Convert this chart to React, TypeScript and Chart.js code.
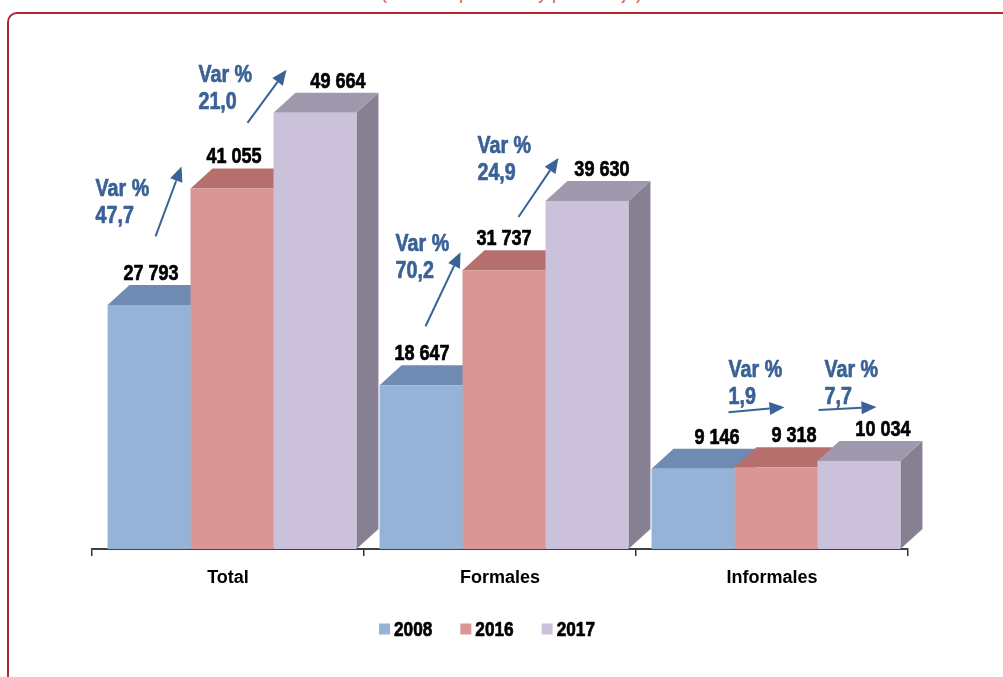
import React, { useEffect, useRef } from 'react';
import { Chart, registerables } from 'chart.js';

Chart.register(...registerables);

// ---------- data ----------
const categories = ['Total', 'Formales', 'Informales'];
const seriesLabels = ['2008', '2016', '2017'];
const values2008 = [27793, 18647, 9146];
const values2016 = [41055, 31737, 9318];
const values2017 = [49664, 39630, 10034];
// Var %: [2008->2016, 2016->2017] per category
const varTotal = ['47,7', '21,0'];
const varFormales = ['70,2', '24,9'];
const varInformales = ['1,9', '7,7'];
const subtitle = '(Miles de personas y porcentaje)';

// ---------- styles ----------
const FONT = "'Liberation Sans', Arial, sans-serif";
const CONDENSE = 0.82;
const FRONT = ['#95B3D7', '#D99694', '#CCC1DA'];
const TOP = ['#6F8BB4', '#B5706E', '#A098AC'];
const SIDE = ['#6A84AA', '#A96664', '#868092'];
const DX = 22;
const DY = 20;
const SHIFT_X = 4;
const VAR_COLOR = '#3A6296';
// label x shifts (px) per series / category
const LABEL_SHIFT = [
  [2, 1, 24],
  [2, 0, 18],
  [23, 15, 24],
];
// annotation layout relative to the target bar's front-top-left corner
// [tailX, tailY, headX, headY, textX, textBaseline]
const ANNOT_LAYOUT = [
  [
    [-35, 48, -9, -22, -95, 8],
    [-26, 10, 13, -43, -75, -31],
  ],
  [
    [-37, 56, -2, -18, -67, -19],
    [-27, 16, 13, -43, -68, -48],
  ],
  [
    [-6, -55, 50, -60, -6, -90],
    [1, -51, 59, -54, 7, -84],
  ],
];
const LEGEND_CENTER_X = 487;
const LEGEND_Y = 629;

const fmt = (v: number) => String(Math.round(v)).replace(/\B(?=(\d{3})+(?!\d))/g, ' ');

function condensedText(ctx: CanvasRenderingContext2D, text: string, x: number, y: number, align: 'left' | 'center') {
  ctx.save();
  ctx.translate(x, y);
  ctx.scale(CONDENSE, 1);
  ctx.textAlign = align;
  ctx.fillText(text, 0, 0);
  ctx.strokeStyle = ctx.fillStyle as string;
  ctx.lineWidth = 0.7;
  ctx.lineJoin = 'round';
  ctx.strokeText(text, 0, 0);
  ctx.restore();
}

function condensedWidth(ctx: CanvasRenderingContext2D, text: string) {
  return ctx.measureText(text).width * CONDENSE;
}

const depthPlugin = {
  id: 'depth3d',
  beforeDatasetsDraw(chart: any) {
    const ctx = chart.ctx;
    ctx.save();
    ctx.translate(SHIFT_X, 0);
    chart.data.datasets.forEach((_ds: any, di: number) => {
      const meta = chart.getDatasetMeta(di);
      meta.data.forEach((bar: any) => {
        const { x, y, base, width } = bar.getProps(['x', 'y', 'base', 'width'], true);
        const x0 = x - width / 2;
        const x1 = x + width / 2;
        ctx.fillStyle = SIDE[di];
        ctx.beginPath();
        ctx.moveTo(x1, y);
        ctx.lineTo(x1 + DX, y - DY);
        ctx.lineTo(x1 + DX, base - DY);
        ctx.lineTo(x1, base);
        ctx.closePath();
        ctx.fill();
        ctx.fillStyle = TOP[di];
        ctx.beginPath();
        ctx.moveTo(x0, y);
        ctx.lineTo(x0 + DX, y - DY);
        ctx.lineTo(x1 + DX, y - DY);
        ctx.lineTo(x1, y);
        ctx.closePath();
        ctx.fill();
      });
    });
  },
  afterDatasetsDraw(chart: any) {
    const ctx = chart.ctx;
    // value labels
    ctx.font = `bold 22px ${FONT}`;
    ctx.fillStyle = '#000';
    ctx.textBaseline = 'alphabetic';
    chart.data.datasets.forEach((ds: any, di: number) => {
      const meta = chart.getDatasetMeta(di);
      meta.data.forEach((bar: any, i: number) => {
        const { x, y } = bar.getProps(['x', 'y'], true);
        condensedText(ctx, fmt(ds.data[i]), x + LABEL_SHIFT[di][i], y - DY - 5, 'center');
      });
    });
    // Var % annotations
    const vars = [varTotal, varFormales, varInformales];
    ctx.font = `bold 24px ${FONT}`;
    vars.forEach((arr, ci) => {
      arr.forEach((txt, s) => {
        const bar: any = chart.getDatasetMeta(s + 1).data[ci];
        const { x, y, width } = bar.getProps(['x', 'y', 'width'], true);
        const ox = x - width / 2;
        const oy = y;
        const [tx, ty, hx, hy, lx, ly] = ANNOT_LAYOUT[ci][s];
        ctx.fillStyle = VAR_COLOR;
        condensedText(ctx, 'Var %', ox + lx, oy + ly, 'left');
        condensedText(ctx, txt, ox + lx, oy + ly + 27, 'left');
        // arrow
        const ax = ox + tx, ay = oy + ty, bx = ox + hx, by = oy + hy;
        const ang = Math.atan2(by - ay, bx - ax);
        const L = 15, W = 6.5;
        const bxl = bx - L * Math.cos(ang);
        const byl = by - L * Math.sin(ang);
        ctx.strokeStyle = VAR_COLOR;
        ctx.lineWidth = 2;
        ctx.beginPath();
        ctx.moveTo(ax, ay);
        ctx.lineTo(bxl, byl);
        ctx.stroke();
        ctx.beginPath();
        ctx.moveTo(bx, by);
        ctx.lineTo(bxl + W * Math.sin(ang), byl - W * Math.cos(ang));
        ctx.lineTo(bxl - W * Math.sin(ang), byl + W * Math.cos(ang));
        ctx.closePath();
        ctx.fill();
      });
    });
    ctx.restore();
  },
  afterDraw(chart: any) {
    // legend
    const ctx = chart.ctx;
    ctx.save();
    ctx.font = `bold 21px ${FONT}`;
    ctx.textBaseline = 'middle';
    const box = 11, gapText = 4, gapItem = 28;
    const items = chart.data.datasets.map((d: any) => ({
      label: d.label,
      color: d.backgroundColor,
      w: box + gapText + condensedWidth(ctx, d.label),
    }));
    const total = items.reduce((a: number, it: any) => a + it.w, 0) + gapItem * (items.length - 1);
    let x = LEGEND_CENTER_X - total / 2;
    items.forEach((it: any) => {
      ctx.fillStyle = it.color;
      ctx.fillRect(x, LEGEND_Y - box / 2, box, box);
      ctx.fillStyle = '#000';
      condensedText(ctx, it.label, x + box + gapText, LEGEND_Y + 1, 'left');
      x += it.w + gapItem;
    });
    ctx.restore();
  },
};

export default function App() {
  const ref = useRef<HTMLCanvasElement>(null);
  useEffect(() => {
    if (!ref.current) return;
    const chart = new Chart(ref.current, {
      type: 'bar',
      data: {
        labels: categories,
        datasets: [
          { label: seriesLabels[0], data: values2008, backgroundColor: FRONT[0] },
          { label: seriesLabels[1], data: values2016, backgroundColor: FRONT[1] },
          { label: seriesLabels[2], data: values2017, backgroundColor: FRONT[2] },
        ],
      },
      options: {
        responsive: false,
        animation: false,
        devicePixelRatio: 1,
        layout: { padding: { left: 92, right: 95, top: 66, bottom: 88 } },
        datasets: { bar: { categoryPercentage: 0.915, barPercentage: 1, borderWidth: 0 } },
        plugins: { legend: { display: false }, tooltip: { enabled: false }, title: { display: false } },
        scales: {
          x: {
            offset: true,
            grid: {
              display: true,
              offset: true,
              drawOnChartArea: false,
              drawTicks: true,
              tickLength: 7,
              color: '#333',
              lineWidth: 1.5,
            },
            border: { display: true, color: '#404040', width: 2 },
            ticks: { color: '#000', font: { family: FONT, size: 18, weight: 'bold' }, padding: 11 },
            afterFit: (scale: any) => {
              scale.height = 40;
            },
          },
          y: { display: false, min: 0, max: 55000 },
        },
      },
      plugins: [depthPlugin],
    } as any);
    return () => chart.destroy();
  }, []);

  return (
    <div style={{ position: 'fixed', left: 0, top: 0, width: 1003, height: 677, overflow: 'hidden', background: '#fff' }}>
      <div
        style={{
          position: 'absolute',
          left: 0,
          width: 1003,
          top: -16,
          textAlign: 'center',
          paddingLeft: 20,
          boxSizing: 'border-box',
          fontFamily: FONT,
          fontSize: 18,
          lineHeight: 1,
          color: '#D0605C',
        }}
      >
        {subtitle}
      </div>
      <div
        style={{
          position: 'absolute',
          left: 7,
          top: 12,
          width: 1020,
          height: 690,
          border: '2px solid #B3282D',
          borderRadius: 10,
          boxSizing: 'border-box',
        }}
      />
      <canvas ref={ref} width={1003} height={677} style={{ position: 'absolute', left: 0, top: 0 }} />
    </div>
  );
}
